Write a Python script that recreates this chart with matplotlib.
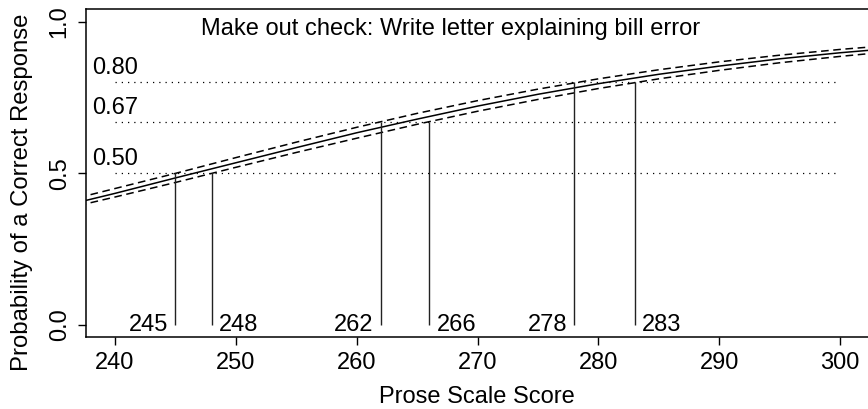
import numpy as np
import matplotlib.pyplot as plt

plt.rcParams['font.family'] = ['Liberation Sans', 'DejaVu Sans']

# curve
score = [237, 240, 245, 250, 255, 260, 265, 270, 275, 280, 285, 290, 295, 300, 305]
prob = [0.405, 0.434, 0.485, 0.535, 0.585, 0.634, 0.679, 0.722, 0.761, 0.796,
        0.827, 0.854, 0.878, 0.898, 0.915]
upper = [0.420, 0.450, 0.500, 0.552, 0.603, 0.652, 0.698, 0.740, 0.778, 0.812,
         0.842, 0.868, 0.890, 0.909, 0.925]
lower = [0.394, 0.422, 0.470, 0.520, 0.569, 0.616, 0.662, 0.705, 0.744, 0.780,
         0.812, 0.840, 0.865, 0.886, 0.905]

levels = [0.50, 0.67, 0.80]
level_labels = ["0.50", "0.67", "0.80"]
cut_scores = [245, 248, 262, 266, 278, 283]
cut_levels = [0.50, 0.50, 0.67, 0.67, 0.80, 0.80]
title = "Make out check: Write letter explaining bill error"

fs = 17
fig = plt.figure(figsize=(8.68, 4.09), dpi=100)
ax = fig.add_axes([0.099, 0.177, 0.901, 0.8])

ax.plot(score, prob, color="black", lw=1.1)
ax.plot(score, upper, color="black", lw=1.1, ls=(0, (5, 3)))
ax.plot(score, lower, color="black", lw=1.1, ls=(0, (5, 3)))

for lev, lab in zip(levels, level_labels):
    ax.hlines(lev, 240, 300, color="black", lw=0.9, linestyles=(0, (1, 4)))
    ax.text(238.1, lev + 0.01, lab, fontsize=fs, ha="left", va="bottom")

for i, (s, lev) in enumerate(zip(cut_scores, cut_levels)):
    ax.vlines(s, 0, lev, color="#222222", lw=1.0)
    if i % 2 == 0:
        ax.text(s - 0.6, 0.0, str(s), fontsize=fs, ha="right", va="center")
    else:
        ax.text(s + 0.6, 0.0, str(s), fontsize=fs, ha="left", va="center")

ax.text(267.8, 0.975, title, fontsize=fs, ha="center", va="center")

ax.set_xlim(237.6, 302.3)
ax.set_ylim(-0.0385, 1.041)
ax.set_xticks([240, 250, 260, 270, 280, 290, 300])
ax.set_yticks([0.0, 0.5, 1.0])
ax.set_yticklabels(["0.0", "0.5", "1.0"], rotation=90, va="center")
ax.tick_params(labelsize=fs, length=6, width=1, pad=5)
ax.spines["right"].set_visible(False)
for sp in ["left", "bottom", "top"]:
    ax.spines[sp].set_linewidth(1.1)

ax.set_xlabel("Prose Scale Score", fontsize=fs, labelpad=9)
ax.set_ylabel("Probability of a Correct Response", fontsize=17.2)
ax.yaxis.set_label_coords(-0.068, 0.442)

fig.savefig("out.png", dpi=100)
